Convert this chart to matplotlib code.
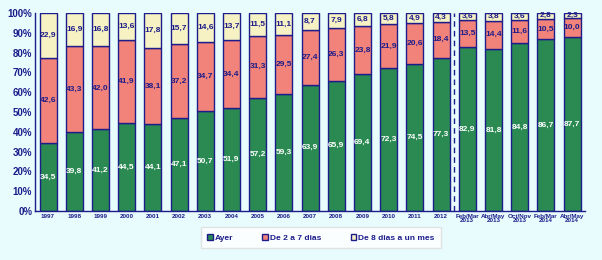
import matplotlib
matplotlib.use("Agg")
import matplotlib.pyplot as plt
import numpy as np

plt.rcParams['font.family'] = ['Liberation Sans', 'DejaVu Sans']

periods = ['1997', '1998', '1999', '2000', '2001', '2002', '2003', '2004',
           '2005', '2006', '2007', '2008', '2009', '2010', '2011', '2012',
           'Feb/Mar\n2013', 'Abr/May\n2013', 'Oct/Nov\n2013',
           'Feb/Mar\n2014', 'Abr/May\n2014']
ayer = [34.5, 39.8, 41.2, 44.5, 44.1, 47.1, 50.7, 51.9, 57.2, 59.3, 63.9,
        65.9, 69.4, 72.3, 74.5, 77.3, 82.9, 81.8, 84.8, 86.7, 87.7]
de2a7 = [42.6, 43.3, 42.0, 41.9, 38.1, 37.2, 34.7, 34.4, 31.3, 29.5, 27.4,
         26.3, 23.8, 21.9, 20.6, 18.4, 13.5, 14.4, 11.6, 10.5, 10.0]
de8 = [22.9, 16.9, 16.8, 13.6, 17.8, 15.7, 14.6, 13.7, 11.5, 11.1, 8.7,
       7.9, 6.8, 5.8, 4.9, 4.3, 3.6, 3.8, 3.6, 2.8, 2.3]
labels = ['Ayer', 'De 2 a 7 dias', 'De 8 dias a un mes']

bg = '#e8fbfd'
navy = '#1c1c8a'
colors = ['#2a8a52', '#f2837a', '#f6f2c4']
text_colors = ['white', navy, navy]

fig = plt.figure(figsize=(6.02, 2.6), dpi=100, facecolor=bg)
ax = fig.add_axes([0.058, 0.188, 0.914, 0.762], facecolor=bg)

x = np.arange(len(periods))
bottom = np.zeros(len(periods))
handles = []
for vals, col, tcol, lab in zip([ayer, de2a7, de8], colors, text_colors, labels):
    vals = np.array(vals)
    b = ax.bar(x, vals, 0.65, bottom=bottom, color=col, edgecolor=navy,
               linewidth=1.0, label=lab)
    handles.append(b)
    for xi, v, b0 in zip(x, vals, bottom):
        ax.text(xi, b0 + v / 2, f'{v:.1f}'.replace('.', ','), ha='center',
                va='center', fontsize=6, fontweight='bold', color=tcol)
    bottom += vals

ax.axvline(15.5, color=navy, linestyle=(0, (4, 3)), linewidth=1.0)

ax.set_xlim(-0.5, 20.5)
ax.set_ylim(0, 100)
ax.set_yticks(np.arange(0, 101, 10))
ax.set_yticklabels([f'{v}%' for v in range(0, 101, 10)], fontsize=7,
                   fontweight='bold', color=navy)
ax.set_xticks(x)
ax.set_xticklabels(periods, fontsize=4.5, fontweight='bold', color=navy,
                   linespacing=0.9)
ax.tick_params(axis='both', length=0, pad=2)
for s in ['top', 'right']:
    ax.spines[s].set_visible(False)
for s in ['left', 'bottom']:
    ax.spines[s].set_color(navy)
    ax.spines[s].set_linewidth(1.0)

leg = fig.legend(handles=handles, labels=labels, loc='center',
                 bbox_to_anchor=(0.533, 0.085), ncol=3, fontsize=6,
                 frameon=True, fancybox=False, handlelength=0.7,
                 handleheight=0.7, handletextpad=0.2, columnspacing=3.5,
                 borderpad=0.8)
leg.get_frame().set_facecolor('white')
leg.get_frame().set_edgecolor('#dddddd')
for t in leg.get_texts():
    t.set_color(navy)
    t.set_fontweight('bold')

fig.savefig('out.png', dpi=100, facecolor=bg)
